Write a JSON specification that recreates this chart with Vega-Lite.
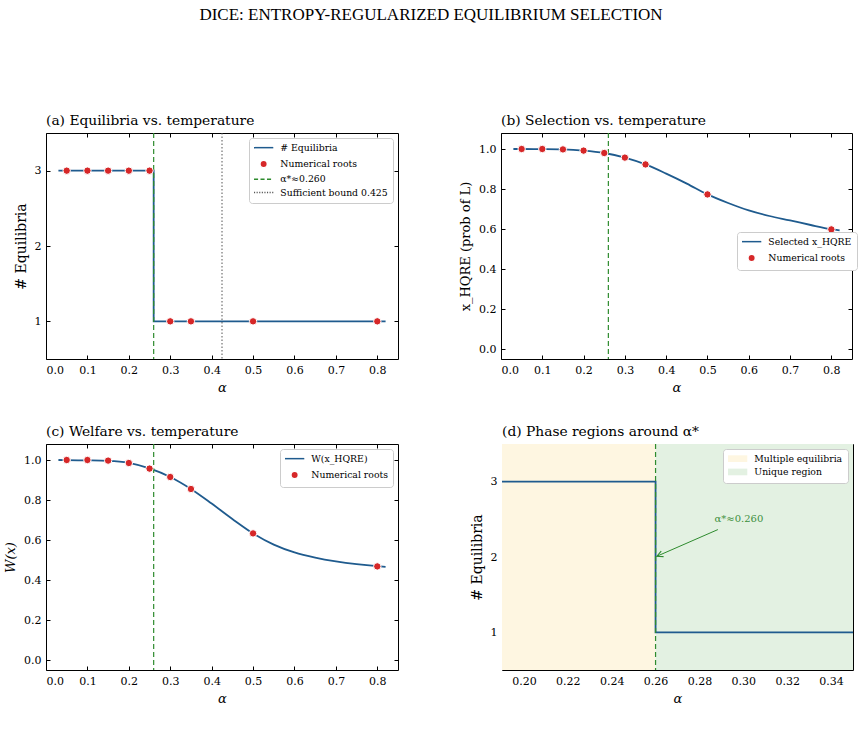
{
  "$schema": "https://vega.github.io/schema/vega-lite/v6.json",
  "background": "white",
  "padding": {"left": 4, "top": 6, "right": 5, "bottom": 5},
  "title": {"text": "DICE: ENTROPY-REGULARIZED EQUILIBRIUM SELECTION", "anchor": "middle", "frame": "bounds", "font": "Liberation Serif", "fontSize": 17, "fontWeight": "normal", "offset": 89, "color": "black"},
  "config": {
    "font": "DejaVu Serif",
    "view": {"stroke": "black", "strokeWidth": 1},
    "axis": {"grid": false, "domain": false, "tickColor": "black", "tickSize": -4, "tickWidth": 1, "labelFont": "DejaVu Serif", "labelFontSize": 11, "labelColor": "black", "labelPadding": 9, "titleFont": "DejaVu Serif", "titleFontSize": 13, "titleFontWeight": "normal", "titleColor": "black", "titlePadding": 6},
    "legend": {"title": null, "fillColor": "white", "strokeColor": "#cccccc", "padding": 5, "cornerRadius": 3, "labelFont": "DejaVu Serif", "labelFontSize": 9.3, "labelColor": "black", "rowPadding": 3.3, "symbolStrokeWidth": 1.5, "symbolSize": 55, "labelOffset": 12, "symbolOffset": 5, "offset": 5},
    "title": {"anchor": "start", "font": "DejaVu Serif", "fontSize": 13.8, "fontWeight": "normal", "color": "black", "offset": 5}
  },
  "resolve": {"scale": {"fill": "independent", "stroke": "independent", "shape": "independent"}, "legend": {"fill": "independent", "stroke": "independent", "shape": "independent"}},
  "spacing": 29,
  "vconcat": [
    {
      "spacing": 60,
      "resolve": {"scale": {"fill": "independent", "stroke": "independent", "shape": "independent"}, "legend": {"fill": "independent", "stroke": "independent", "shape": "independent"}},
      "hconcat": [
        {
          "width": 352, "height": 226,
          "title": {"text": "(a)  Equilibria vs. temperature", "frame": "group"},
          "resolve": {"axis": {"x": "independent", "y": "independent"}},
          "layer": [
            {
              "data": {"values": [{"alpha": 0.03, "n": 3, "i": 0}, {"alpha": 0.26, "n": 3, "i": 1}, {"alpha": 0.26, "n": 1, "i": 2}, {"alpha": 0.82, "n": 1, "i": 3}]},
              "mark": {"type": "line", "color": "#1f5b8e", "strokeWidth": 1.8},
              "encoding": {
                "x": {"field": "alpha", "type": "quantitative", "scale": {"domain": [0, 0.85], "nice": false, "zero": false}, "axis": {"values": [0, 0.1, 0.2, 0.3, 0.4, 0.5, 0.6, 0.7, 0.8], "format": ".1f", "title": "α", "titleFontStyle": "italic"}},
                "y": {"field": "n", "type": "quantitative", "scale": {"domain": [0.5, 3.5], "nice": false, "zero": false}, "axis": {"values": [1, 2, 3], "format": "d", "title": "# Equilibria", "titleFontSize": 14}},
                "order": {"field": "i", "type": "quantitative"}
              }
            },
            {
              "data": {"values": [{"alpha": 0.26}]},
              "mark": {"type": "rule", "color": "#2e8b2e", "strokeDash": [5, 3], "strokeWidth": 1.2},
              "encoding": {"x": {"field": "alpha", "type": "quantitative", "axis": null}}
            },
            {
              "data": {"values": [{"alpha": 0.425}]},
              "mark": {"type": "rule", "color": "#555555", "strokeDash": [1.5, 2], "strokeWidth": 1},
              "encoding": {"x": {"field": "alpha", "type": "quantitative", "axis": null}}
            },
            {
              "data": {"values": [
                {"alpha": 0.05, "n": 3, "series": "Numerical roots"}, {"alpha": 0.1, "n": 3, "series": "Numerical roots"}, {"alpha": 0.15, "n": 3, "series": "Numerical roots"}, {"alpha": 0.2, "n": 3, "series": "Numerical roots"}, {"alpha": 0.25, "n": 3, "series": "Numerical roots"},
                {"alpha": 0.3, "n": 1, "series": "Numerical roots"}, {"alpha": 0.35, "n": 1, "series": "Numerical roots"}, {"alpha": 0.5, "n": 1, "series": "Numerical roots"}, {"alpha": 0.8, "n": 1, "series": "Numerical roots"}
              ]},
              "mark": {"type": "point", "filled": true, "size": 55, "strokeWidth": 1, "opacity": 1},
              "encoding": {
                "x": {"field": "alpha", "type": "quantitative", "axis": {"orient": "top", "labels": false, "title": null, "values": [0, 0.1, 0.2, 0.3, 0.4, 0.5, 0.6, 0.7, 0.8]}},
                "y": {"field": "n", "type": "quantitative", "axis": {"orient": "right", "labels": false, "title": null, "values": [1, 2, 3]}},
                "fill": {"field": "series", "type": "nominal", "scale": {"domain": ["# Equilibria", "Numerical roots", "α*≈0.260", "Sufficient bound 0.425"], "range": ["#1f5b8e", "#d62728", "#2e8b2e", "#555555"]}, "legend": {"orient": "top-right"}},
                "stroke": {"field": "series", "type": "nominal", "scale": {"domain": ["# Equilibria", "Numerical roots", "α*≈0.260", "Sufficient bound 0.425"], "range": ["#1f5b8e", "white", "#2e8b2e", "#555555"]}, "legend": {"orient": "top-right"}},
                "shape": {"field": "series", "type": "nominal", "scale": {"domain": ["# Equilibria", "Numerical roots", "α*≈0.260", "Sufficient bound 0.425"], "range": ["M-2.6,0H2.6", "circle", "M-2.6,0H-1.5M-0.85,0H0.25M0.9,0H2.0", "M-2.6,0H-2.3M-1.9,0H-1.6M-1.2,0H-0.9M-0.5,0H-0.2M0.2,0H0.5M0.9,0H1.2M1.6,0H1.9M2.3,0H2.6"]}, "legend": {"orient": "top-right"}}
              }
            }
          ]
        },
        {
          "width": 351, "height": 226,
          "title": {"text": "(b)  Selection vs. temperature", "frame": "group"},
          "resolve": {"axis": {"x": "independent", "y": "independent"}},
          "layer": [
            {
              "data": {"values": [
                {"alpha": 0.03, "x": 1.0}, {"alpha": 0.05, "x": 1.0}, {"alpha": 0.1, "x": 0.9995}, {"alpha": 0.15, "x": 0.998}, {"alpha": 0.2, "x": 0.992}, {"alpha": 0.25, "x": 0.98}, {"alpha": 0.3, "x": 0.957}, {"alpha": 0.35, "x": 0.923}, {"alpha": 0.4, "x": 0.877}, {"alpha": 0.45, "x": 0.827}, {"alpha": 0.5, "x": 0.773}, {"alpha": 0.55, "x": 0.73}, {"alpha": 0.6, "x": 0.693}, {"alpha": 0.65, "x": 0.665}, {"alpha": 0.7, "x": 0.643}, {"alpha": 0.75, "x": 0.62}, {"alpha": 0.8, "x": 0.599}, {"alpha": 0.82, "x": 0.593}
              ]},
              "mark": {"type": "line", "color": "#1f5b8e", "strokeWidth": 1.8, "interpolate": "monotone"},
              "encoding": {
                "x": {"field": "alpha", "type": "quantitative", "scale": {"domain": [0, 0.85], "nice": false, "zero": false}, "axis": {"values": [0, 0.1, 0.2, 0.3, 0.4, 0.5, 0.6, 0.7, 0.8], "format": ".1f", "title": "α", "titleFontStyle": "italic"}},
                "y": {"field": "x", "type": "quantitative", "scale": {"domain": [-0.05, 1.08], "nice": false, "zero": false}, "axis": {"values": [0, 0.2, 0.4, 0.6, 0.8, 1.0], "format": ".1f", "title": "x_HQRE (prob of L)"}}
              }
            },
            {
              "data": {"values": [{"alpha": 0.26}]},
              "mark": {"type": "rule", "color": "#2e8b2e", "strokeDash": [5, 3], "strokeWidth": 1.2},
              "encoding": {"x": {"field": "alpha", "type": "quantitative", "axis": null}}
            },
            {
              "data": {"values": [
                {"alpha": 0.05, "x": 1.0, "series": "Numerical roots"}, {"alpha": 0.1, "x": 1.0, "series": "Numerical roots"}, {"alpha": 0.15, "x": 0.998, "series": "Numerical roots"}, {"alpha": 0.2, "x": 0.992, "series": "Numerical roots"}, {"alpha": 0.25, "x": 0.98, "series": "Numerical roots"}, {"alpha": 0.3, "x": 0.957, "series": "Numerical roots"}, {"alpha": 0.35, "x": 0.923, "series": "Numerical roots"}, {"alpha": 0.5, "x": 0.773, "series": "Numerical roots"}, {"alpha": 0.8, "x": 0.598, "series": "Numerical roots"}
              ]},
              "mark": {"type": "point", "filled": true, "size": 55, "strokeWidth": 1, "opacity": 1},
              "encoding": {
                "x": {"field": "alpha", "type": "quantitative", "axis": {"orient": "top", "labels": false, "title": null, "values": [0, 0.1, 0.2, 0.3, 0.4, 0.5, 0.6, 0.7, 0.8]}},
                "y": {"field": "x", "type": "quantitative", "axis": {"orient": "right", "labels": false, "title": null, "values": [0, 0.2, 0.4, 0.6, 0.8, 1.0]}},
                "fill": {"field": "series", "type": "nominal", "scale": {"domain": ["Selected x_HQRE", "Numerical roots"], "range": ["#1f5b8e", "#d62728"]}, "legend": {"orient": "none", "legendX": 236, "legendY": 99}},
                "stroke": {"field": "series", "type": "nominal", "scale": {"domain": ["Selected x_HQRE", "Numerical roots"], "range": ["#1f5b8e", "white"]}, "legend": {"orient": "none", "legendX": 236, "legendY": 99}},
                "shape": {"field": "series", "type": "nominal", "scale": {"domain": ["Selected x_HQRE", "Numerical roots"], "range": ["M-2.6,0H2.6", "circle"]}, "legend": {"orient": "none", "legendX": 236, "legendY": 99}}
              }
            }
          ]
        }
      ]
    },
    {
      "spacing": 70,
      "resolve": {"scale": {"fill": "independent", "stroke": "independent", "shape": "independent"}, "legend": {"fill": "independent", "stroke": "independent", "shape": "independent"}},
      "hconcat": [
        {
          "width": 352, "height": 226,
          "title": {"text": "(c)  Welfare vs. temperature", "frame": "group"},
          "resolve": {"axis": {"x": "independent", "y": "independent"}},
          "layer": [
            {
              "data": {"values": [
                {"alpha": 0.03, "w": 1.0}, {"alpha": 0.05, "w": 0.999}, {"alpha": 0.1, "w": 0.998}, {"alpha": 0.15, "w": 0.996}, {"alpha": 0.2, "w": 0.986}, {"alpha": 0.25, "w": 0.958}, {"alpha": 0.3, "w": 0.915}, {"alpha": 0.35, "w": 0.855}, {"alpha": 0.4, "w": 0.782}, {"alpha": 0.45, "w": 0.705}, {"alpha": 0.5, "w": 0.633}, {"alpha": 0.55, "w": 0.577}, {"alpha": 0.6, "w": 0.538}, {"alpha": 0.65, "w": 0.512}, {"alpha": 0.7, "w": 0.493}, {"alpha": 0.75, "w": 0.479}, {"alpha": 0.8, "w": 0.469}, {"alpha": 0.82, "w": 0.466}
              ]},
              "mark": {"type": "line", "color": "#1f5b8e", "strokeWidth": 1.8, "interpolate": "monotone"},
              "encoding": {
                "x": {"field": "alpha", "type": "quantitative", "scale": {"domain": [0, 0.85], "nice": false, "zero": false}, "axis": {"values": [0, 0.1, 0.2, 0.3, 0.4, 0.5, 0.6, 0.7, 0.8], "format": ".1f", "title": "α", "titleFontStyle": "italic"}},
                "y": {"field": "w", "type": "quantitative", "scale": {"domain": [-0.05, 1.08], "nice": false, "zero": false}, "axis": {"values": [0, 0.2, 0.4, 0.6, 0.8, 1.0], "format": ".1f", "title": "W(x)", "titleFontStyle": "italic"}}
              }
            },
            {
              "data": {"values": [{"alpha": 0.26}]},
              "mark": {"type": "rule", "color": "#2e8b2e", "strokeDash": [5, 3], "strokeWidth": 1.2},
              "encoding": {"x": {"field": "alpha", "type": "quantitative", "axis": null}}
            },
            {
              "data": {"values": [
                {"alpha": 0.05, "w": 1.0, "series": "Numerical roots"}, {"alpha": 0.1, "w": 1.0, "series": "Numerical roots"}, {"alpha": 0.15, "w": 0.997, "series": "Numerical roots"}, {"alpha": 0.2, "w": 0.985, "series": "Numerical roots"}, {"alpha": 0.25, "w": 0.957, "series": "Numerical roots"}, {"alpha": 0.3, "w": 0.915, "series": "Numerical roots"}, {"alpha": 0.35, "w": 0.855, "series": "Numerical roots"}, {"alpha": 0.5, "w": 0.633, "series": "Numerical roots"}, {"alpha": 0.8, "w": 0.468, "series": "Numerical roots"}
              ]},
              "mark": {"type": "point", "filled": true, "size": 55, "strokeWidth": 1, "opacity": 1},
              "encoding": {
                "x": {"field": "alpha", "type": "quantitative", "axis": {"orient": "top", "labels": false, "title": null, "values": [0, 0.1, 0.2, 0.3, 0.4, 0.5, 0.6, 0.7, 0.8]}},
                "y": {"field": "w", "type": "quantitative", "axis": {"orient": "right", "labels": false, "title": null, "values": [0, 0.2, 0.4, 0.6, 0.8, 1.0]}},
                "fill": {"field": "series", "type": "nominal", "scale": {"domain": ["W(x_HQRE)", "Numerical roots"], "range": ["#1f5b8e", "#d62728"]}, "legend": {"orient": "top-right"}},
                "stroke": {"field": "series", "type": "nominal", "scale": {"domain": ["W(x_HQRE)", "Numerical roots"], "range": ["#1f5b8e", "white"]}, "legend": {"orient": "top-right"}},
                "shape": {"field": "series", "type": "nominal", "scale": {"domain": ["W(x_HQRE)", "Numerical roots"], "range": ["M-2.6,0H2.6", "circle"]}, "legend": {"orient": "top-right"}}
              }
            }
          ]
        },
        {
          "width": 351, "height": 226,
          "title": {"text": "(d)  Phase regions around α*", "frame": "group"},
          "resolve": {"axis": {"x": "independent", "y": "independent"}},
          "layer": [
            {
              "data": {"values": [{"a0": 0.19, "a1": 0.26, "region": "Multiple equilibria"}, {"a0": 0.26, "a1": 0.35, "region": "Unique region"}]},
              "mark": {"type": "rect"},
              "encoding": {
                "x": {"field": "a0", "type": "quantitative", "scale": {"domain": [0.19, 0.35], "nice": false, "zero": false}, "axis": null},
                "x2": {"field": "a1"},
                "fill": {"field": "region", "type": "nominal", "scale": {"domain": ["Multiple equilibria", "Unique region"], "range": ["#fef6e1", "#e3f1e2"]}, "legend": {"orient": "top-right", "symbolType": "M-2.6,-0.9H2.6V0.9H-2.6Z", "symbolStrokeWidth": 0}}
              }
            },
            {
              "data": {"values": [{"alpha": 0.19, "n": 3, "i": 0}, {"alpha": 0.26, "n": 3, "i": 1}, {"alpha": 0.26, "n": 1, "i": 2}, {"alpha": 0.35, "n": 1, "i": 3}]},
              "mark": {"type": "line", "color": "#1f5b8e", "strokeWidth": 1.8},
              "encoding": {
                "x": {"field": "alpha", "type": "quantitative", "axis": {"values": [0.2, 0.22, 0.24, 0.26, 0.28, 0.3, 0.32, 0.34], "format": ".2f", "title": "α", "titleFontStyle": "italic"}},
                "y": {"field": "n", "type": "quantitative", "scale": {"domain": [0.5, 3.5], "nice": false, "zero": false}, "axis": {"values": [1, 2, 3], "format": "d", "title": "# Equilibria", "titleFontSize": 14}},
                "order": {"field": "i", "type": "quantitative"}
              }
            },
            {
              "data": {"values": [{"alpha": 0.26}]},
              "mark": {"type": "rule", "color": "#2e8b2e", "strokeDash": [5, 3], "strokeWidth": 1.2},
              "encoding": {"x": {"field": "alpha", "type": "quantitative", "axis": null}}
            },
            {
              "data": {"values": [{"ax": 0.2884, "ay": 2.364, "bx": 0.2606, "by": 2.01}]},
              "mark": {"type": "rule", "color": "#2e8b2e", "strokeWidth": 1},
              "encoding": {
                "x": {"field": "ax", "type": "quantitative", "axis": {"orient": "top", "labels": false, "title": null, "values": [0.2, 0.22, 0.24, 0.26, 0.28, 0.3, 0.32, 0.34]}},
                "y": {"field": "ay", "type": "quantitative", "axis": {"orient": "right", "labels": false, "title": null, "values": [1, 2, 3]}},
                "x2": {"field": "bx"},
                "y2": {"field": "by"}
              }
            },
            {
              "data": {"values": [{"bx": 0.2606, "by": 2.01}]},
              "mark": {"type": "point", "shape": "M-0.6,1.2L0,0L0.6,1.2", "filled": false, "size": 100, "stroke": "#2e8b2e", "strokeWidth": 1.1, "angle": 247, "opacity": 1},
              "encoding": {
                "x": {"field": "bx", "type": "quantitative", "axis": null},
                "y": {"field": "by", "type": "quantitative", "axis": null}
              }
            },
            {
              "data": {"values": [{"tx": 0.298, "ty": 2.507, "label": "α*≈0.260"}]},
              "mark": {"type": "text", "color": "#3c8f3c", "fontSize": 10, "font": "DejaVu Serif", "align": "center", "baseline": "middle"},
              "encoding": {
                "x": {"field": "tx", "type": "quantitative", "axis": null},
                "y": {"field": "ty", "type": "quantitative", "axis": null},
                "text": {"field": "label"}
              }
            }
          ]
        }
      ]
    }
  ]
}
